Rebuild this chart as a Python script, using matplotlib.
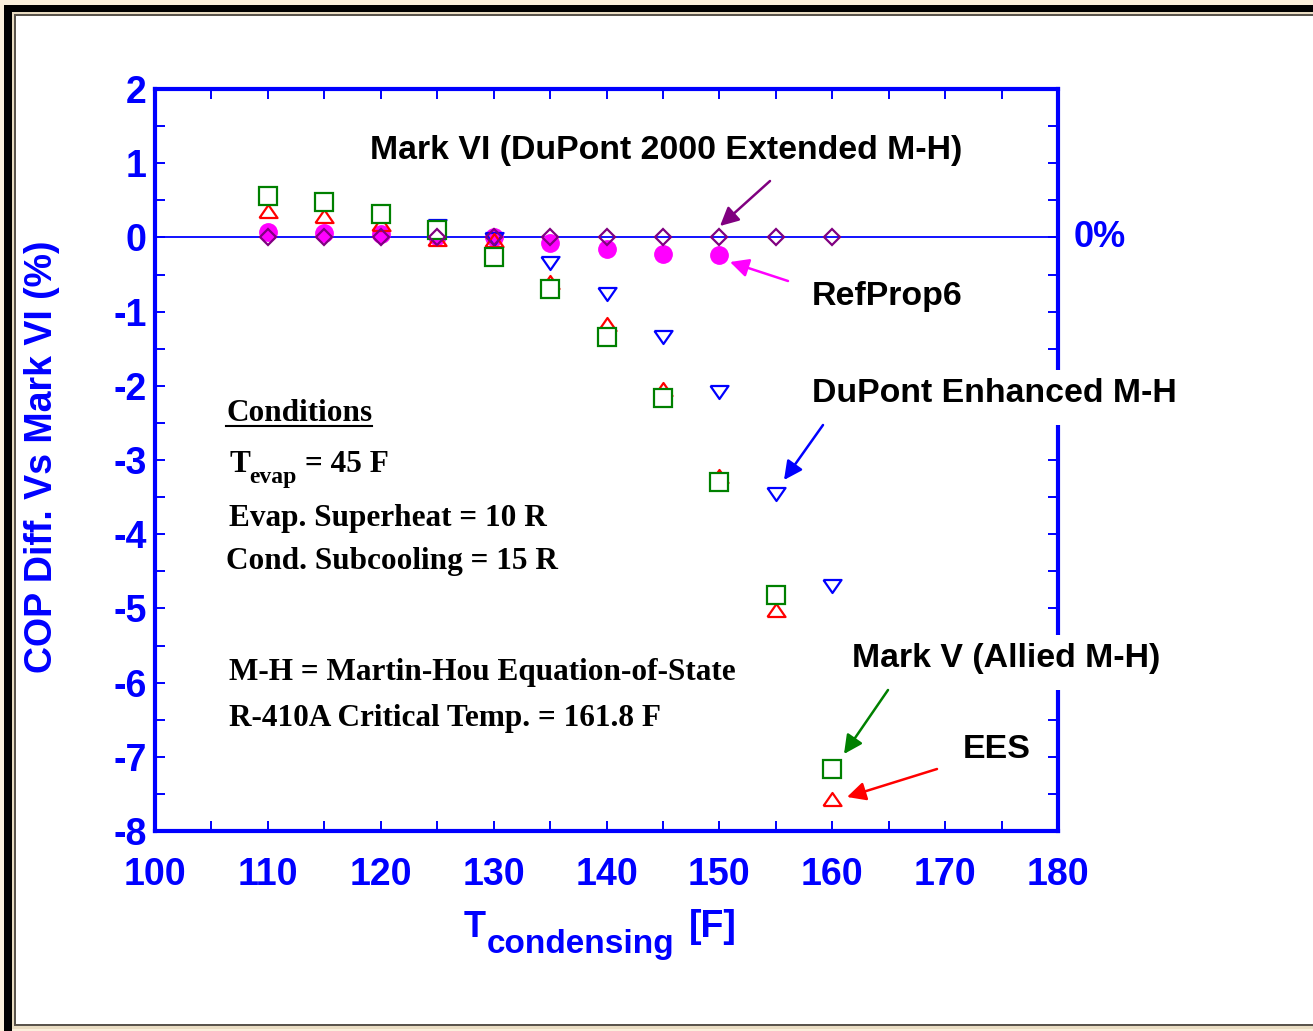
import matplotlib.pyplot as plt
from matplotlib.patches import Rectangle
import numpy as np

plt.rcParams['axes.unicode_minus'] = False

W, H = 1313, 1031

# condensing temperatures [F]
t_cond = [110, 115, 120, 125, 130, 135, 140, 145, 150, 155, 160]
t_refprop = [110, 115, 120, 125, 130, 135, 140, 145, 150]
t_dupont = [125, 130, 135, 140, 145, 150, 155, 160]

# COP difference vs Mark VI (%)
mark6 = [0, 0, 0, 0, 0, 0, 0, 0, 0, 0, 0]
refprop6 = [0.07, 0.06, 0.04, 0.02, 0.0, -0.07, -0.15, -0.22, -0.24]
dupont_enh = [0.15, -0.02, -0.35, -0.76, -1.34, -2.08, -3.46, -4.70]
ees = [0.35, 0.29, 0.18, -0.02, -0.03, -0.60, -1.17, -2.04, -3.21, -5.02, -7.57]
mark5 = [0.56, 0.48, 0.31, 0.10, -0.26, -0.69, -1.34, -2.17, -3.30, -4.82, -7.16]

BLUE = '#0000ff'
sans = 'Liberation Sans'
serif = 'Liberation Serif'


def fx(px):
    return px / W


def fy(py):
    return 1 - py / H


fig = plt.figure(figsize=(W / 100, H / 100), dpi=100, facecolor='#fbf0dc')

# picture frame
def frame(x0, y0, x1, y1, color, z=-10):
    fig.add_artist(Rectangle((fx(x0), fy(y1)), fx(x1) - fx(x0), fy(y0) - fy(y1),
                             transform=fig.transFigure, color=color, lw=0, zorder=z))

frame(4, 5, W, 1026, 'black')
frame(4, 5, 12, H, 'black')
frame(12, 12, W, 1029, '#e9dcc2')
frame(14, 14, W, 1026, '#5a544c')
frame(16, 16, W, 1024, 'white')

ax = fig.add_axes([fx(155), fy(831), fx(1058) - fx(155), fy(89) - fy(831)])
ax.set_facecolor('none')
ax.set_xlim(100, 180)
ax.set_ylim(-8, 2)

ax.axhline(0, color=BLUE, lw=1.3, zorder=1)

tri_up = [(-1, -0.72), (1, -0.72), (0, 0.72), (-1, -0.72)]
tri_dn = [(-1, 0.72), (1, 0.72), (0, -0.72), (-1, 0.72)]

ax.plot(t_refprop, refprop6, 'o', color='#ff00ff', ms=12.5, mec='#ff00ff', zorder=2)
ax.plot(t_dupont, dupont_enh, ls='none', marker=tri_dn, ms=13, mfc='none', mec=BLUE, mew=1.6, zorder=3)
ax.plot(t_cond, ees, ls='none', marker=tri_up, ms=13, mfc='none', mec='#ff0000', mew=1.6, zorder=4)
ax.plot(t_cond, mark5, 's', ms=12.5, mfc='white', mec='#008000', mew=1.6, zorder=5)
ax.plot(t_cond, mark6, 'D', ms=8, mfc='none', mec='#800080', mew=1.6, zorder=6)

for s in ax.spines.values():
    s.set_color(BLUE)
    s.set_linewidth(3)

ax.set_xticks(np.arange(100, 181, 10))
ax.set_xticks(np.arange(100, 181, 5), minor=True)
ax.set_yticks(np.arange(-8, 2.1, 1))
ax.set_yticks(np.arange(-8, 2.1, 0.5), minor=True)
ax.tick_params(which='both', direction='in', top=True, right=True, color=BLUE,
               length=7, width=1.4)
ax.tick_params(axis='x', which='major', pad=19, labelsize=27, labelcolor=BLUE)
ax.tick_params(axis='y', which='major', pad=6, labelsize=27, labelcolor=BLUE)
for lab in ax.get_xticklabels() + ax.get_yticklabels():
    lab.set_fontfamily(sans)
    lab.set_fontweight('bold')

# gaps in right spine behind labels
frame(1048, 370, 1068, 425, 'white', z=5)
frame(1048, 635, 1068, 690, 'white', z=5)

# axis titles
fig.text(fx(42), fy(457), 'COP Diff. Vs Mark VI (%)', rotation=90, color=BLUE,
         fontsize=27, fontweight='bold', family=sans, ha='center', va='center')
fig.text(fx(464), fy(937), 'T', color=BLUE, fontsize=26, fontweight='bold',
         family=sans, va='baseline')
fig.text(fx(487), fy(953), 'condensing', color=BLUE, fontsize=24, fontweight='bold',
         family=sans, va='baseline')
fig.text(fx(689), fy(937), '[F]', color=BLUE, fontsize=27, fontweight='bold',
         family=sans, va='baseline')
fig.text(fx(1074), fy(247), '0%', color=BLUE, fontsize=26, fontweight='bold',
         family=sans, va='baseline')

# curve labels
labels = [
    ('Mark VI (DuPont 2000 Extended M-H)', 370, 159),
    ('RefProp6', 812, 305),
    ('DuPont Enhanced M-H', 812, 402),
    ('Mark V (Allied M-H)', 852, 667),
    ('EES', 963, 758),
]
for txt, x, y in labels:
    fig.text(fx(x), fy(y), txt, fontsize=24.4, fontweight='bold', family=sans,
             va='baseline', color='black', zorder=6)

arrows = [
    ((770, 181), (720, 226), '#800080'),
    ((788, 281), (730, 262), '#ff00ff'),
    ((823, 425), (784, 480), BLUE),
    ((888, 690), (844, 754), '#008000'),
    ((937, 769), (847, 797), '#ff0000'),
]
for (x0, y0), (x1, y1), c in arrows:
    fig.add_artist(plt.Annotation('', xy=(fx(x1), fy(y1)), xytext=(fx(x0), fy(y0)),
                                  xycoords='figure fraction', textcoords='figure fraction',
                                  arrowprops=dict(arrowstyle='-|>', color=c, lw=1.8,
                                                  mutation_scale=28, shrinkA=0, shrinkB=0)))

# conditions box
cond = dict(fontsize=22.5, fontweight='bold', family=serif, va='baseline', color='black')
fig.text(fx(226), fy(421), 'Conditions', **cond)
fig.add_artist(plt.Line2D([fx(226), fx(372)], [fy(426), fy(426)], color='black', lw=1.5))
fig.text(fx(229), fy(472), 'T', **cond)
fig.text(fx(249), fy(483), 'evap', **{**cond, 'fontsize': 17})
fig.text(fx(305), fy(472), '= 45 F', **cond)
fig.text(fx(229), fy(526), 'Evap. Superheat = 10 R', **cond)
fig.text(fx(226), fy(569), 'Cond. Subcooling = 15 R', **cond)
fig.text(fx(229), fy(680), 'M-H = Martin-Hou Equation-of-State', **cond)
fig.text(fx(229), fy(726), 'R-410A Critical Temp. = 161.8 F', **cond)

fig.savefig('out.png', dpi=100, facecolor=fig.get_facecolor())
